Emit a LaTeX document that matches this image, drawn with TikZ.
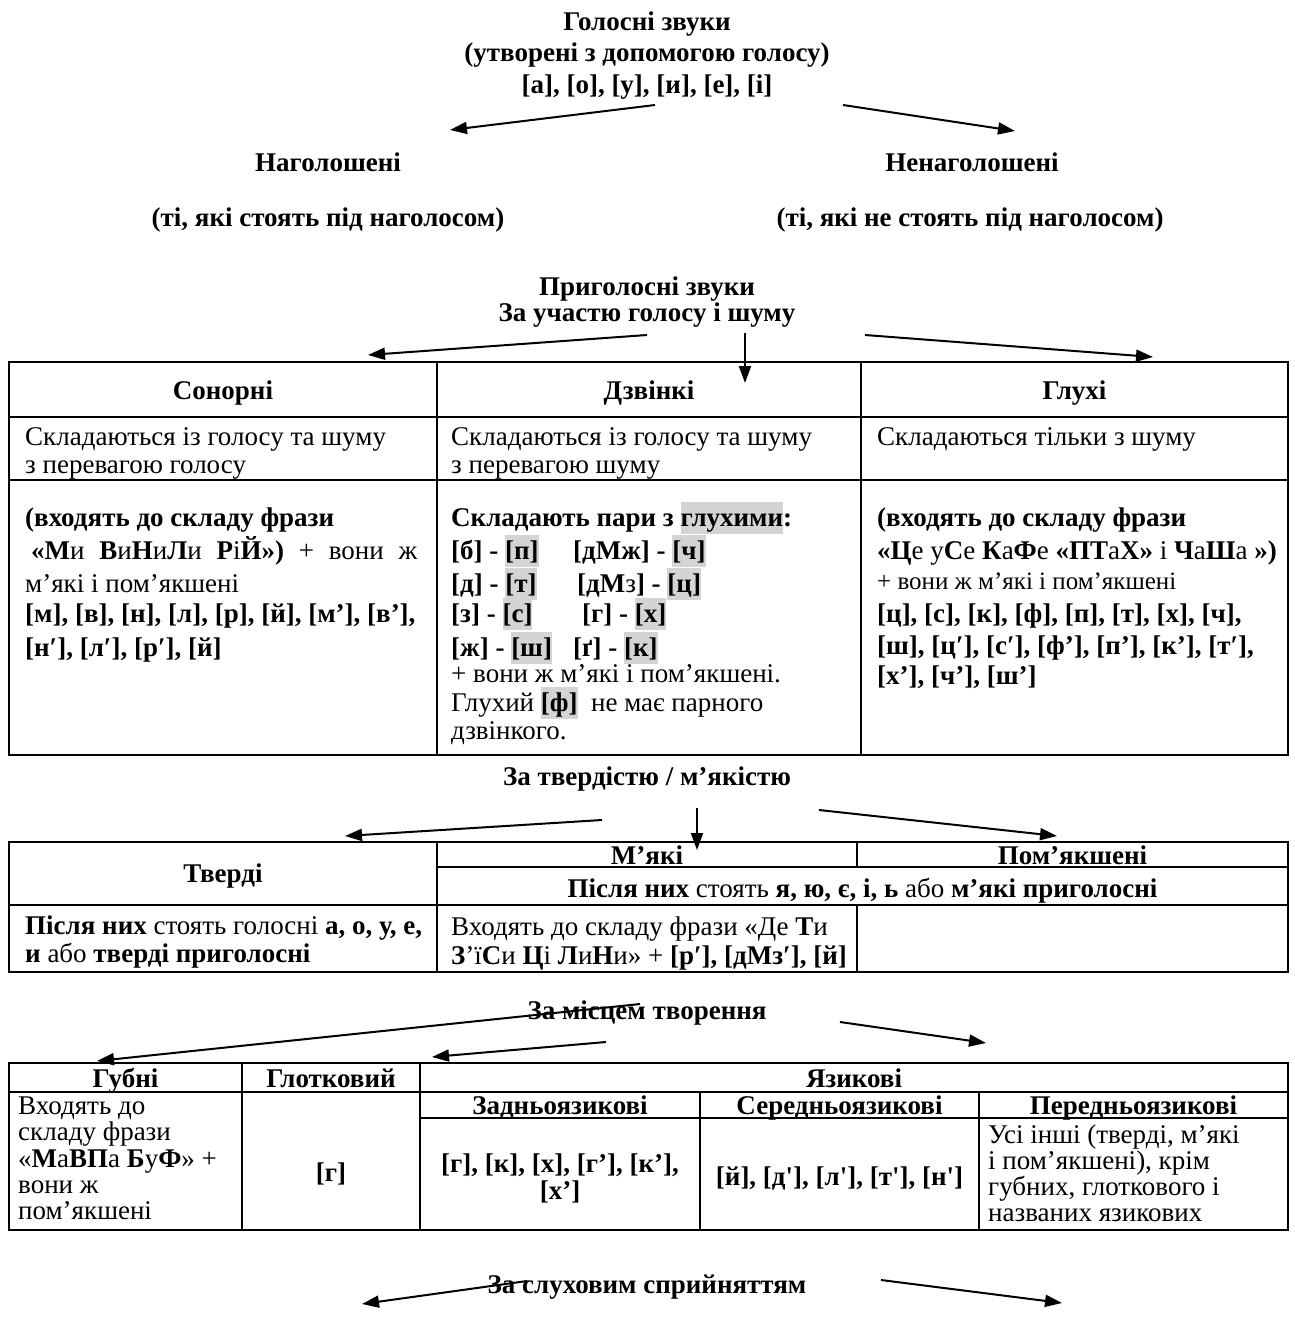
\documentclass[tikz,border=0pt]{standalone}
\usepackage{fontspec}
\setmainfont{Liberation Serif}
\usetikzlibrary{arrows.meta}
\definecolor{hlgray}{RGB}{212,212,212}
\newcommand\myfs{\fontsize{27}{31}\selectfont}
\newcommand\mysmfs{\fontsize{25}{29}\selectfont}
\newcommand\hlg[1]{{\setlength{\fboxsep}{0pt}\colorbox{hlgray}{\rule[-8pt]{0pt}{32pt}#1}}}
\newcommand\bb[1]{\textbf{#1}}
\begin{document}
\begin{tikzpicture}[x=1pt,y=-1pt,
  lt/.style={inner sep=0pt, anchor=base west, font=\myfs},
  ct/.style={inner sep=0pt, anchor=base, font=\myfs},
  bt/.style={ct, font=\myfs\bfseries},
  arr/.style={line width=2pt, -{Triangle[length=17pt,width=12pt]}},
  grid/.style={line width=2.2pt}]
\useasboundingbox (0,0) rectangle (1294,1333);
\fill[white] (0,0) rectangle (1294,1333);

% ---------- Section 1 ----------
\node[bt] (v1) at (647,30) {Голосні звуки};
\node[bt] (v2) at (647,61) {(утворені з допомогою голосу)};
\node[bt] (v3) at (647,93) {[а], [о], [у], [и], [е], [і]};
\node[bt] (nag) at (328,171) {Наголошені};
\node[bt] (nenag) at (972,171) {Ненаголошені};
\node[bt] (nagd) at (328,226) {(ті, які стоять під наголосом)};
\node[bt] (nenagd) at (970,226) {(ті, які не стоять під наголосом)};
\coordinate (a1s) at (655,105); \coordinate (a1e) at (450,130);
\coordinate (a2s) at (843,105); \coordinate (a2e) at (1015,131);
\draw[arr] (a1s) -- (a1e);
\draw[arr] (a2s) -- (a2e);

% ---------- Section 2 ----------
\node[bt] (c1) at (647,295) {Приголосні звуки};
\node[bt] (c2) at (647,321) {За участю голосу і шуму};
\coordinate (b1s) at (647,335); \coordinate (b1e) at (368,355);
\coordinate (b2s) at (745,333); \coordinate (b2e) at (745,383);
\coordinate (b3s) at (865,335); \coordinate (b3e) at (1153,357);
\draw[arr] (b1s) -- (b1e);
\draw[arr] (b2s) -- (b2e);
\draw[arr] (b3s) -- (b3e);

\draw[grid] (9,362) rectangle (1288,755);
\draw[grid] (437,362) -- (437,755);
\draw[grid] (861,362) -- (861,755);
\draw[grid] (9,417) -- (1288,417);
\draw[grid] (9,480) -- (1288,480);

\node[bt] (h1) at (223,399) {Сонорні};
\node[bt] (h2) at (649,399) {Дзвінкі};
\node[bt] (h3) at (1074.5,399) {Глухі};

\node[lt] (s1) at (25,445) {Складаються із голосу та шуму};
\node[lt] (s2) at (25,473) {з перевагою голосу};
\node[lt] (d1) at (451,445) {Складаються із голосу та шуму};
\node[lt] (d2) at (451,473) {з перевагою шуму};
\node[lt] (g1) at (877,445) {Складаються тільки з шуму};

\node[lt] (s3) at (25,526) {\bfseries (входять до складу фрази};
\node[lt] (s4) at (31,559) {\makebox[386pt][s]{\bb{«М}и \bb{В}и\bb{Н}и\bb{Л}и \bb{Р}і\bb{Й»)} + вони ж}};
\node[lt] (s5) at (25,592) {м’які і пом’якшені};
\node[lt] (s6) at (25,622) {\bfseries [м], [в], [н], [л], [р], [й], [м’], [в’],};
\node[lt] (s7) at (25,656) {\bfseries [н′], [л′], [р′], [й]};

\node[lt] (d3) at (451,526) {\bfseries Складають пари з \hlg{глухими}:};
\node[lt] (d4a) at (451,559) {\bfseries [б] - \hlg{[п]}};
\node[lt] (d4b) at (573,559) {\bfseries [дМж] - \hlg{[ч]}};
\node[lt] (d5a) at (451,592) {\bfseries [д] - \hlg{[т]}};
\node[lt] (d5b) at (577,592) {\bfseries [дМ{\mdseries з}] - \hlg{[ц]}};
\node[lt] (d6a) at (451,622) {\bfseries [з] - \hlg{[с]}};
\node[lt] (d6b) at (582,622) {\bfseries [г] - \hlg{[х]}};
\node[lt] (d7a) at (451,656) {\bfseries [ж] - \hlg{[ш]}};
\node[lt] (d7b) at (573,656) {\bfseries [ґ] - \hlg{[к]}};
\node[lt] (d8) at (451,682) {+ вони ж м’які і пом’якшені.};
\node[lt] (d9) at (451,711) {Глухий \hlg{\bb{[ф]}}\ \ не має парного};
\node[lt] (d10) at (451,739) {дзвінкого.};

\node[lt] (g3) at (877,526) {\bfseries (входять до складу фрази};
\node[lt] (g4) at (877,559) {\bb{«Ц}е у\bb{С}е \bb{К}а\bb{Ф}е \bb{«ПТ}а\bb{Х»} і \bb{Ч}а\bb{Ш}а \bb{»)}};
\node[lt, font=\mysmfs] (g5) at (877,589) {+ вони ж м’які і пом’якшені};
\node[lt] (g6) at (877,622) {\bfseries [ц], [с], [к], [ф], [п], [т], [х], [ч],};
\node[lt] (g7) at (877,654) {\bfseries [ш], [ц′], [с′], [ф’], [п’], [к’], [т′],};
\node[lt] (g8) at (877,684) {\bfseries [х’], [ч’], [ш’]};

% ---------- Section 3 ----------
\node[bt] (t0) at (647,785) {За твердістю / м’якістю};
\coordinate (e1s) at (602,820); \coordinate (e1e) at (345,836);
\coordinate (e2s) at (697,808); \coordinate (e2e) at (697,850);
\coordinate (e3s) at (819,810); \coordinate (e3e) at (1057,836);
\draw[arr] (e1s) -- (e1e);
\draw[arr] (e3s) -- (e3e);

\draw[grid] (9,842) rectangle (1288,972);
\draw[grid] (437,842) -- (437,972);
\draw[grid] (437,867) -- (1288,867);
\draw[grid] (857,842) -- (857,867);
\draw[grid] (9,905) -- (1288,905);
\draw[grid] (857,905) -- (857,972);

\node[bt] (tv) at (223,882) {Тверді};
\node[bt] (mk) at (647,864) {М’які};
\node[bt] (pm) at (1072.5,864) {Пом’якшені};
\draw[arr] (e2s) -- (e2e);
\node[ct] (pn) at (862.5,897) {\bb{Після них} стоять \bb{я, ю, є, і, ь} або \bb{м’які приголосні}};
\node[lt] (tv1) at (25,934) {\bb{Після них} стоять голосні \bb{а, о, у, е,}};
\node[lt] (tv2) at (25,962) {\bb{и} або \bb{тверді приголосні}};
\node[lt] (mk1) at (451,935) {Входять до складу фрази «Де \bb{Т}и};
\node[lt] (mk2) at (451,964) {\bb{З}’ї\bb{С}и \bb{Ц}і \bb{Л}и\bb{Н}и» + \bb{[р′], [дМз′], [й]}};

% ---------- Section 4 ----------
\node[bt] (m0) at (647,1019) {За місцем творення};
\coordinate (f1s) at (640,1004); \coordinate (f1e) at (97,1061);
\coordinate (f2s) at (606,1042); \coordinate (f2e) at (432,1057);
\coordinate (f3s) at (840,1022); \coordinate (f3e) at (986,1043);
\draw[arr] (f1s) -- (f1e);
\draw[arr] (f2s) -- (f2e);
\draw[arr] (f3s) -- (f3e);

\draw[grid] (9,1063) rectangle (1288,1230);
\draw[grid] (242,1063) -- (242,1230);
\draw[grid] (420,1063) -- (420,1230);
\draw[grid] (700,1092) -- (700,1230);
\draw[grid] (979,1092) -- (979,1230);
\draw[grid] (9,1092) -- (1288,1092);
\draw[grid] (420,1118) -- (1288,1118);

\node[bt] (gb) at (125.5,1087) {Губні};
\node[bt] (gl) at (331,1087) {Глотковий};
\node[bt] (ja) at (854,1087) {Язикові};
\node[bt] (zj) at (560,1114) {Задньоязикові};
\node[bt] (sj) at (839.5,1114) {Середньоязикові};
\node[bt] (pj) at (1133.5,1114) {Передньоязикові};

\node[lt] (gb1) at (18,1114) {Входять до};
\node[lt] (gb2) at (18,1140) {складу фрази};
\node[lt] (gb3) at (18,1167) {«\bb{М}а\bb{ВП}а \bb{Б}у\bb{Ф}» +};
\node[lt] (gb4) at (18,1193) {вони ж};
\node[lt] (gb5) at (18,1219) {пом’якшені};
\node[bt] (gl1) at (331,1181) {[г]};
\node[bt] (zj1) at (560,1172) {[г], [к], [х], [г’], [к’],};
\node[bt] (zj2) at (560,1199) {[х’]};
\node[bt] (sj1) at (839.5,1185) {[й], [д\textquotesingle], [л\textquotesingle], [т\textquotesingle], [н\textquotesingle]};
\node[lt] (pj1) at (988,1143) {Усі інші (тверді, м’які};
\node[lt] (pj2) at (988,1169) {і пом’якшені), крім};
\node[lt] (pj3) at (988,1195) {губних, глоткового і};
\node[lt] (pj4) at (988,1221) {названих язикових};

% ---------- Section 5 ----------
\node[bt] (sl) at (647,1293) {За слуховим сприйняттям};
\coordinate (k1s) at (527,1281); \coordinate (k1e) at (362,1304);
\coordinate (k2s) at (881,1280); \coordinate (k2e) at (1062,1303);
\draw[arr] (k1s) -- (k1e);
\draw[arr] (k2s) -- (k2e);
\end{tikzpicture}
\end{document}
